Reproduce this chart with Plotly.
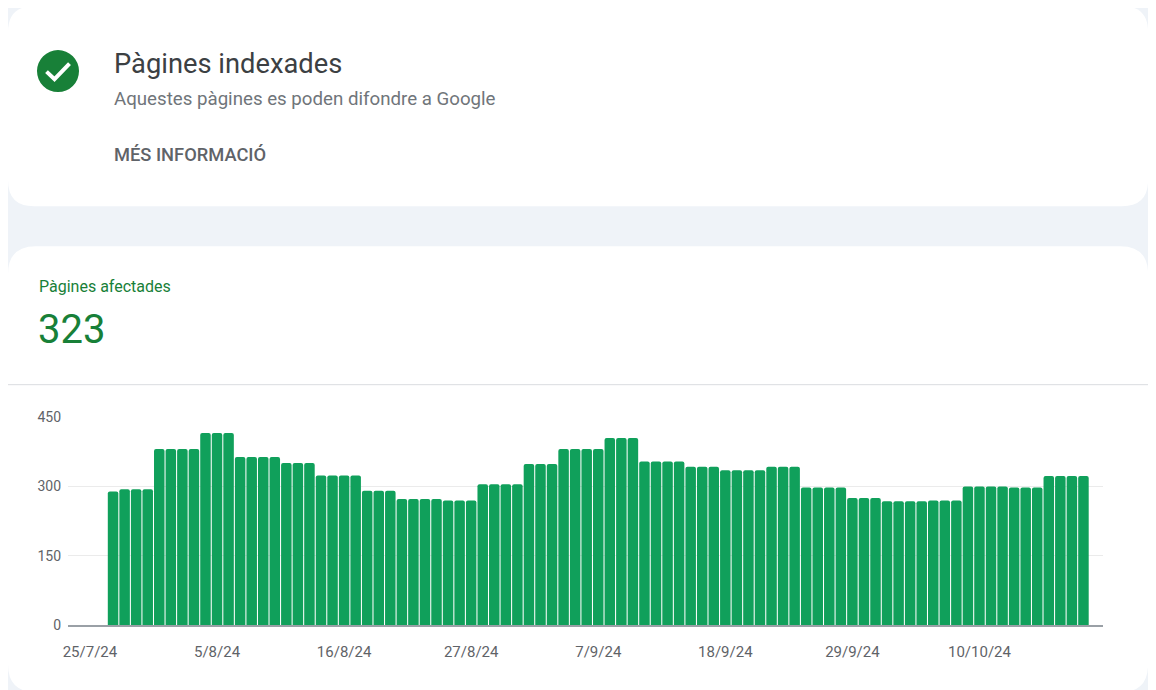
import pandas as pd
import plotly.graph_objects as go

W, H = 1156, 690

# data (Search Console, indexed pages per day)
start_day = "2024-07-27"
n_days = 85
pages = [
    289, 294, 294, 294,
    381, 381, 381, 381,
    416, 416, 416,
    364, 364, 364, 364,
    351, 351, 351,
    324, 324, 324, 324,
    291, 291, 291,
    273, 273, 273, 273,
    270, 270, 270,
    305, 305, 305, 305,
    349, 349, 349,
    381, 381, 381, 381,
    405, 405, 405,
    354, 354, 354, 354,
    343, 343, 343,
    335, 335, 335, 335,
    343, 343, 343,
    298, 298, 298, 298,
    275, 275, 275,
    268, 268, 268, 268,
    270, 270, 270,
    300, 300, 300, 300,
    298, 298, 298,
    323, 323, 323, 323,
]
tick_dates = ["2024-07-25", "2024-08-05", "2024-08-16", "2024-08-27",
              "2024-09-07", "2024-09-18", "2024-09-29", "2024-10-10"]
tick_text = ["25/7/24", "5/8/24", "16/8/24", "27/8/24",
             "7/9/24", "18/9/24", "29/9/24", "10/10/24"]
y_ticks = [0, 150, 300, 450]

days = pd.date_range(start_day, periods=n_days, freq="D")

BG = "#eff3f8"
GREEN_BAR = "#10a05b"
GREEN_TXT = "#188038"
GREY_TXT = "#5f6368"
GREY_LIGHT = "#70757a"
FONT = "Roboto"

# the page sits 8px in from the body margin and the photo comes out a bit
# squashed, so screen positions are mapped back to figure pixels here
OFF_X, SC_X = 13.0, 0.9956
OFF_Y, SC_Y = 15.9, 0.9766


def px(x):
    return (x - OFF_X) / SC_X / W


def py(y):
    return 1 - (y - OFF_Y) / SC_Y / H


def rounded_rect(x0, y0, x1, y1, r):
    pts = [
        ("M", [(x0 + r, y0)]),
        ("L", [(x1 - r, y0)]),
        ("Q", [(x1, y0), (x1, y0 + r)]),
        ("L", [(x1, y1 - r)]),
        ("Q", [(x1, y1), (x1 - r, y1)]),
        ("L", [(x0 + r, y1)]),
        ("Q", [(x0, y1), (x0, y1 - r)]),
        ("L", [(x0, y0 + r)]),
        ("Q", [(x0, y0), (x0 + r, y0)]),
    ]
    out = ""
    for cmd, coords in pts:
        out += cmd + " " + " ".join(f"{px(a):.5f},{py(b):.5f}" for a, b in coords) + " "
    return out + "Z"


fig = go.Figure(go.Bar(
    x=days, y=pages,
    marker=dict(color=GREEN_BAR, line=dict(width=0)),
    hoverinfo="x+y",
))

shapes = [
    dict(type="path", path=rounded_rect(8, 6, 1148, 206, 26), xref="paper", yref="paper",
         fillcolor="white", line=dict(width=0), layer="below"),
    dict(type="path", path=rounded_rect(8, 246, 1148, 692, 28), xref="paper", yref="paper",
         fillcolor="white", line=dict(width=0), layer="below"),
    dict(type="line", xref="paper", yref="paper", x0=px(8), x1=px(1148), y0=py(384.5), y1=py(384.5),
         line=dict(color="#dadce0", width=1), layer="below"),
    # check icon
    dict(type="circle", xref="paper", yref="paper", x0=px(37), x1=px(79), y0=py(92), y1=py(50),
         fillcolor=GREEN_TXT, line=dict(width=0)),
    dict(type="path", xref="paper", yref="paper",
         path=f"M {px(46.5):.5f},{py(71.5):.5f} L {px(54.5):.5f},{py(79):.5f} L {px(69.5):.5f},{py(63.5):.5f}",
         line=dict(color="white", width=4)),
]

annotations = [
    dict(text="Pàgines indexades", x=px(112), y=py(64), font=dict(size=27.3, color="#3c4043")),
    dict(text="Aquestes pàgines es poden difondre a Google", x=px(112), y=py(99),
         font=dict(size=18.7, color=GREY_LIGHT)),
    dict(text="MÉS INFORMACIÓ", x=px(112), y=py(154),
         font=dict(size=18.3, color=GREY_TXT, weight=500)),
    dict(text="Pàgines afectades", x=px(37), y=py(286), font=dict(size=16, color=GREEN_TXT)),
    dict(text="323", x=px(36), y=py(329), font=dict(size=40, color=GREEN_TXT)),
]
for a in annotations:
    a.update(xref="paper", yref="paper", xanchor="left", yanchor="middle",
             showarrow=False)
    a["font"]["family"] = FONT

fig.update_layout(
    width=W, height=H,
    margin=dict(l=0, r=0, t=0, b=0),
    paper_bgcolor=BG,
    plot_bgcolor="rgba(0,0,0,0)",
    showlegend=False,
    bargap=0.09,
    barcornerradius=2,
    font=dict(family=FONT, size=15, color=GREY_TXT),
    shapes=shapes,
    annotations=annotations,
    xaxis=dict(
        domain=[px(68), px(1103)],
        type="date",
        range=["2024-07-23 02:24", "2024-10-20 16:48"],
        tickvals=tick_dates, ticktext=tick_text,
        showgrid=False, zeroline=False,
        showline=True, linecolor="#9aa0a6", linewidth=2,
        ticks="", ticklabelstandoff=12,
        tickfont=dict(size=15, color=GREY_TXT),
        fixedrange=True,
    ),
    yaxis=dict(
        domain=[py(625), py(417)],
        range=[0, 450],
        tickvals=y_ticks,
        showgrid=True, gridcolor="#ebebeb", gridwidth=1,
        zeroline=False, showline=False, ticks="",
        ticklabelstandoff=6,
        tickfont=dict(size=14, color=GREY_TXT),
        fixedrange=True,
    ),
)

fig.write_html("out.html")
